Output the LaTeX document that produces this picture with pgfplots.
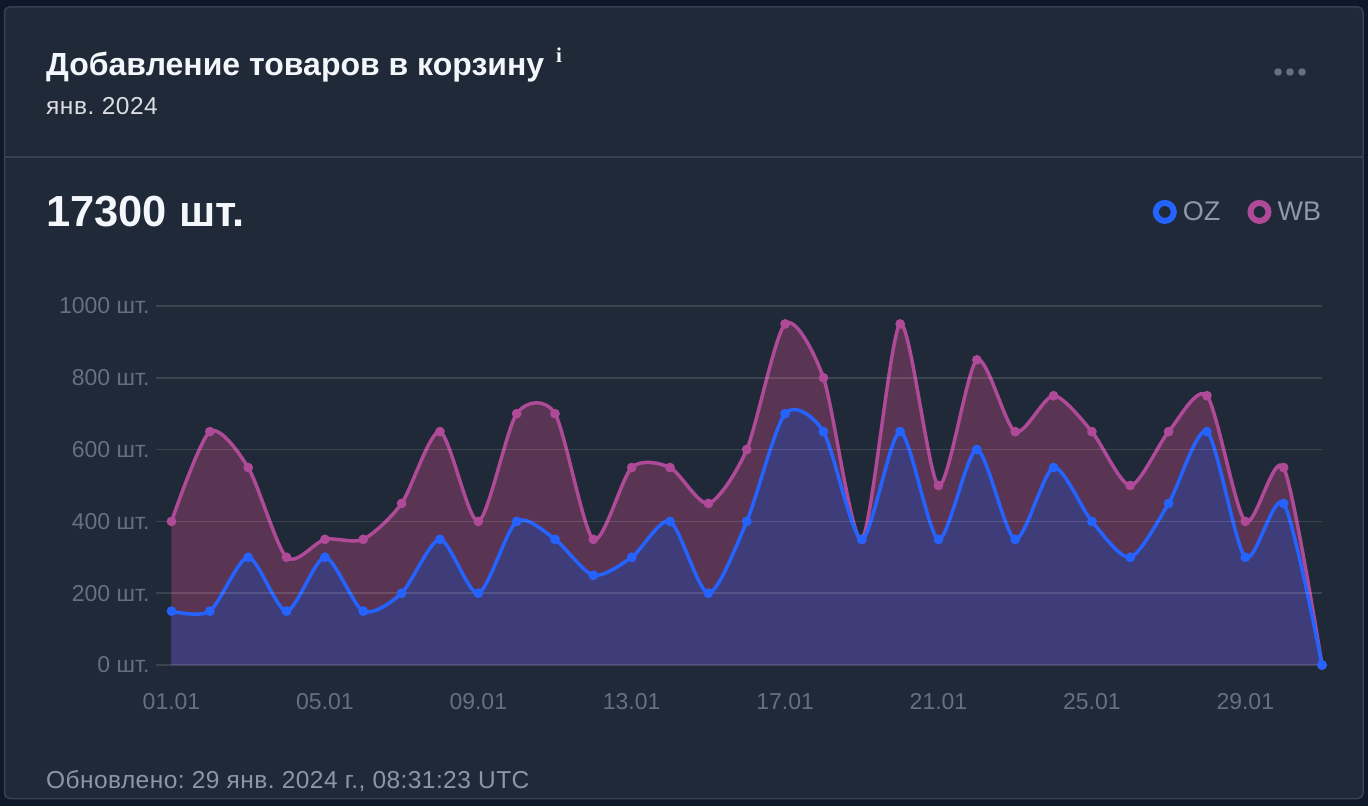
\documentclass[border=0pt]{standalone}
\usepackage{pgfplots}
\pgfplotsset{compat=1.18}
\usepackage{fontspec}
\setmainfont{Liberation Sans}
\newfontfamily\iconfont{Liberation Serif}
\definecolor{outerbg}{RGB}{15,23,42}
\definecolor{cardbg}{RGB}{31,41,55}
\definecolor{cardline}{RGB}{55,65,81}
\definecolor{ticktxt}{RGB}{100,112,132}
\definecolor{legtxt}{RGB}{140,152,172}
\definecolor{footer}{RGB}{140,150,168}
\definecolor{titlec}{RGB}{243,246,250}
\definecolor{blueln}{RGB}{37,99,255}
\definecolor{pinkln}{RGB}{174,74,151}
\definecolor{wbarea}{RGB}{90,53,83}
\definecolor{ozarea}{RGB}{63,60,122}
\frenchspacing
\begin{document}
\begin{tikzpicture}[x=1pt,y=1pt]
\path[use as bounding box] (0,0) rectangle (1368,806);
\fill[outerbg] (0,0) rectangle (1368,806);
\fill[cardbg,draw=cardline,line width=1.5pt,rounded corners=5pt] (4.5,7.5) rectangle (1363,799);
\draw[cardline,line width=1.5pt] (4.5,649) -- (1363,649);
\node[anchor=base west,inner sep=0,text=titlec,font=\fontsize{32}{38}\selectfont\bfseries] at (46,730) {Добавление товаров в корзину};
\node[anchor=base west,inner sep=0,text=titlec,font=\iconfont\bfseries\fontsize{21}{24}\selectfont] at (556,743) {i};
\node[anchor=base west,inner sep=0,text=titlec!90!black,font=\fontsize{24.5}{28}\selectfont\addfontfeature{LetterSpace=2.2}] at (46,691) {янв. 2024};
\node[anchor=base west,inner sep=0,text=titlec,font=\fontsize{43.5}{48}\selectfont\bfseries] at (46,579) {17300 шт.};
\node[anchor=base west,inner sep=0,text=footer,font=\fontsize{24.5}{28}\selectfont\addfontfeature{LetterSpace=1.75}] at (46,18) {Обновлено: 29 янв. 2024 г., 08:31:23 UTC};
\foreach \dx in {1278,1290,1302} \fill[ticktxt] (\dx,734) circle (3.8);
\begin{axis}[
  at={(156pt,141pt)},anchor=south west,
  scale only axis,width=1166pt,height=359pt,
  xmin=0.596,xmax=31,ymin=0,ymax=1000,
  clip=false,axis on top,
  axis x line*=bottom,axis y line*=left,
  axis line style={draw=none},
  major tick length=0pt,
  ytick={0,200,400,600,800,1000},
  xtick={1,5,9,13,17,21,25,29},
  xticklabels={01.01,05.01,09.01,13.01,17.01,21.01,25.01,29.01},
  yticklabels={0 шт.,200 шт.,400 шт.,600 шт.,800 шт.,1000 шт.},
  ymajorgrids,
  y grid style={white,opacity=0.12,line width=1.5pt},
  tick label style={text=ticktxt,font=\fontsize{23}{28}\selectfont},
  yticklabel style={anchor=east,xshift=-3pt},
  xticklabel style={anchor=north,yshift=-25pt},
  legend style={at={(axis description cs:1.001,1.296)},anchor=north east,draw=none,fill=none,
    legend columns=2,text=legtxt,font=\fontsize{27}{32}\selectfont,
    /tikz/every even column/.append style={column sep=25pt},
    inner sep=0pt,outer sep=0pt},
  legend cell align=left,
]
\addlegendimage{legend image code/.code={\draw[blueln,line width=6pt,fill=none] (0pt,0pt) circle (9pt);\path (16pt,0pt);}}
\addlegendentry{OZ}
\addlegendimage{legend image code/.code={\draw[pinkln,line width=6pt,fill=none] (0pt,0pt) circle (9pt);\path (16pt,0pt);}}
\addlegendentry{WB}
\addplot[forget plot,smooth,tension=0.45,draw=none,fill=wbarea] coordinates {
(1,400)(2,650)(3,550)(4,300)(5,350)(6,350)(7,450)(8,650)(9,400)(10,700)(11,700)(12,350)(13,550)(14,550)(15,450)(16,600)(17,950)(18,800)(19,350)(20,950)(21,500)(22,850)(23,650)(24,750)(25,650)(26,500)(27,650)(28,750)(29,400)(30,550)(31,0)} \closedcycle;
\addplot[forget plot,smooth,tension=0.45,draw=none,fill=ozarea] coordinates {
(1,150)(2,150)(3,300)(4,150)(5,300)(6,150)(7,200)(8,350)(9,200)(10,400)(11,350)(12,250)(13,300)(14,400)(15,200)(16,400)(17,700)(18,650)(19,350)(20,650)(21,350)(22,600)(23,350)(24,550)(25,400)(26,300)(27,450)(28,650)(29,300)(30,450)(31,0)} \closedcycle;
\addplot[forget plot,smooth,tension=0.45,pinkln,line width=3.5pt,mark=*,mark size=3pt,mark options={fill=pinkln,draw=none}] coordinates {
(1,400)(2,650)(3,550)(4,300)(5,350)(6,350)(7,450)(8,650)(9,400)(10,700)(11,700)(12,350)(13,550)(14,550)(15,450)(16,600)(17,950)(18,800)(19,350)(20,950)(21,500)(22,850)(23,650)(24,750)(25,650)(26,500)(27,650)(28,750)(29,400)(30,550)(31,0)};
\addplot[forget plot,smooth,tension=0.45,blueln,line width=3.5pt,mark=*,mark size=3pt,mark options={fill=blueln,draw=none}] coordinates {
(1,150)(2,150)(3,300)(4,150)(5,300)(6,150)(7,200)(8,350)(9,200)(10,400)(11,350)(12,250)(13,300)(14,400)(15,200)(16,400)(17,700)(18,650)(19,350)(20,650)(21,350)(22,600)(23,350)(24,550)(25,400)(26,300)(27,450)(28,650)(29,300)(30,450)(31,0)};
\end{axis}
\end{tikzpicture}
\end{document}
